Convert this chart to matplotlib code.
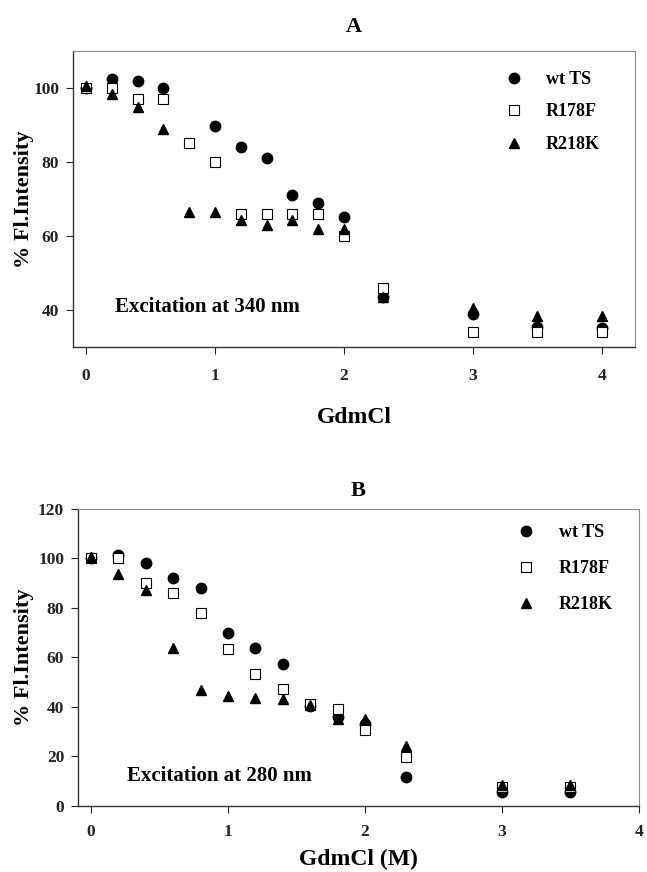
import matplotlib
matplotlib.use('Agg')
import matplotlib.pyplot as plt

# data: denaturant (M) vs % fluorescence intensity
gdm_a = [0, 0.2, 0.4, 0.6, 0.8, 1.0, 1.2, 1.4, 1.6, 1.8, 2.0, 2.3, 3.0, 3.5, 4.0]
wt_a_x = [0, 0.2, 0.4, 0.6, 1.0, 1.2, 1.4, 1.6, 1.8, 2.0, 2.3, 3.0, 3.5, 4.0]
wt_a = [100, 102.3, 102, 100, 89.8, 84, 81, 71, 69, 65, 43.6, 39, 35.3, 35]
r178f_a = [100, 100, 97, 97, 85, 80, 66, 66, 66, 66, 60, 46, 34, 34, 34]
r218k_a = [100.5, 98.3, 95, 89, 66.5, 66.5, 64.2, 63, 64.2, 62, 62, 43.4, 40.4, 38.3, 38.3]

gdm_b = [0, 0.2, 0.4, 0.6, 0.8, 1.0, 1.2, 1.4, 1.6, 1.8, 2.0, 2.3, 3.0, 3.5]
wt_b = [100, 101.5, 98, 92.2, 88, 70, 64, 57.3, 40.5, 36, 33, 11.7, 5.6, 5.6]
r178f_b = [100, 100, 90, 86, 77.8, 63.3, 53.2, 47.3, 41.3, 39, 30.8, 19.6, 7.8, 7.8]
r218k_b = [100.5, 93.9, 87.4, 63.8, 47, 44.5, 43.7, 43.2, 41, 35.1, 35.3, 24.4, 8.6, 8.6]

plt.rcParams['font.family'] = ['Liberation Serif', 'DejaVu Serif']
plt.rcParams['font.weight'] = 'bold'

fig = plt.figure(figsize=(6.47, 8.72), dpi=100)
axA = fig.add_axes([0.1128, 0.6021, 0.8686, 0.3394])
axB = fig.add_axes([0.1206, 0.0757, 0.867, 0.3406])

ms = 7.5


def style(ax, xpad):
    for s in ['left', 'bottom']:
        ax.spines[s].set_color('#333333')
        ax.spines[s].set_linewidth(1.0)
    for s in ['top', 'right']:
        ax.spines[s].set_color('#888888')
        ax.spines[s].set_linewidth(0.8)
    ax.tick_params(direction='out', length=5, width=0.8, labelsize=12.5, colors='#222222')
    ax.tick_params(axis='x', pad=xpad)
    ax.tick_params(axis='y', pad=5)
    for lab in ax.get_xticklabels() + ax.get_yticklabels():
        lab.set_fontweight('bold')


# panel A
axA.plot(wt_a_x, wt_a, 'o', color='black', ms=ms, label='wt TS')
axA.plot(gdm_a, r178f_a, 's', mfc='white', mec='black', mew=0.8, ms=ms, label='R178F')
axA.plot(gdm_a, r218k_a, '^', color='black', ms=ms, label='R218K')
axA.set_xlim(-0.101, 4.256)
axA.set_ylim(30, 110)
axA.set_xticks([0, 1, 2, 3, 4])
axA.set_yticks([40, 60, 80, 100])
style(axA, 10)
axA.set_title('A', fontsize=16, fontweight='bold', pad=14)
axA.set_xlabel('GdmCl', fontsize=17, fontweight='bold', labelpad=17)
axA.set_ylabel('% Fl.Intensity', fontsize=16, fontweight='bold', labelpad=-1)
axA.text(0.074, 0.135, 'Excitation at 340 nm', transform=axA.transAxes,
         fontsize=15, fontweight='bold', va='center')
axA.legend(loc='upper right', frameon=False, fontsize=13, handletextpad=0.78,
           labelspacing=0.86, borderaxespad=0.6, bbox_to_anchor=(0.97, 0.994))

# panel B
axB.plot(gdm_b, wt_b, 'o', color='black', ms=ms, label='wt TS')
axB.plot(gdm_b, r178f_b, 's', mfc='white', mec='black', mew=0.8, ms=ms, label='R178F')
axB.plot(gdm_b, r218k_b, '^', color='black', ms=ms, label='R218K')
axB.set_xlim(-0.095, 4.0)
axB.set_ylim(0, 120)
axB.set_xticks([0, 1, 2, 3, 4])
axB.set_yticks(range(0, 121, 20))
style(axB, 8)
axB.set_title('B', fontsize=16, fontweight='bold', pad=9)
axB.set_xlabel('GdmCl (M)', fontsize=17, fontweight='bold', labelpad=6)
axB.set_ylabel('% Fl.Intensity', fontsize=16, fontweight='bold', labelpad=3)
axB.text(0.087, 0.10, 'Excitation at 280 nm', transform=axB.transAxes,
         fontsize=15, fontweight='bold', va='center')
axB.legend(loc='upper right', frameon=False, fontsize=13, handletextpad=0.78,
           labelspacing=1.06, borderaxespad=0.6, bbox_to_anchor=(0.985, 1.01))

fig.savefig('out.png', dpi=100)
